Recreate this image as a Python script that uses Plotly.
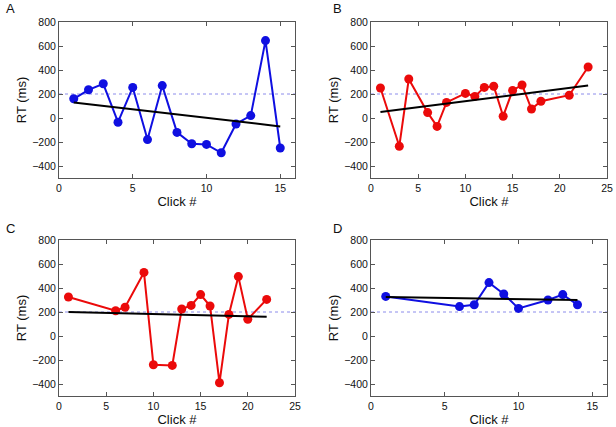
import plotly.graph_objects as go

# Panel A
xA = [1, 2, 3, 4, 5, 6, 7, 8, 9, 10, 11, 12, 13, 14, 15]
yA = [160, 235, 285, -35, 255, -180, 270, -120, -215, -220, -290, -50, 20, 645, -250]
fitA_x = [1, 15]
fitA_y = [130, -70]

# Panel B
xB = [1, 3, 4, 6, 7, 8, 10, 11, 12, 13, 14, 15, 16, 17, 18, 21, 23]
yB = [250, -235, 325, 45, -70, 130, 205, 180, 255, 265, 15, 230, 275, 75, 140, 190, 425]
fitB_x = [1, 23]
fitB_y = [50, 270]

# Panel C
xC = [1, 6, 7, 9, 10, 12, 13, 14, 15, 16, 17, 18, 19, 20, 22]
yC = [325, 210, 240, 530, -240, -245, 225, 255, 345, 250, -390, 180, 495, 140, 305]
fitC_x = [1, 22]
fitC_y = [200, 160]

# Panel D
xD = [1, 6, 7, 8, 9, 10, 12, 13, 14]
yD = [330, 245, 260, 445, 350, 230, 300, 345, 260]
fitD_x = [1, 14]
fitD_y = [325, 300]

threshold = 200
y_ticks = [-400, -200, 0, 200, 400, 600, 800]
panel_labels = ["A", "B", "C", "D"]

BLUE = "rgb(15,15,225)"
RED = "rgb(235,10,10)"
FONT = "Liberation Sans, Arial, sans-serif"

panels = [
    (xA, yA, fitA_x, fitA_y, BLUE, 16, [0, 5, 10, 15]),
    (xB, yB, fitB_x, fitB_y, RED, 25, [0, 5, 10, 15, 20, 25]),
    (xC, yC, fitC_x, fitC_y, RED, 25, [0, 5, 10, 15, 20, 25]),
    (xD, yD, fitD_x, fitD_y, BLUE, 16, [0, 5, 10, 15]),
]

W, H = 616, 427
boxes = [  # left, top, right, bottom in pixels
    (59, 22, 295, 178),
    (371, 22, 607, 178),
    (59, 240, 295, 396),
    (371, 240, 607, 396),
]
label_pos = [(4, 8), (331, 8), (4, 228), (331, 228)]

fig = go.Figure()
layout = {}
annotations = []
for i, ((x, y, fx, fy, col, xmax, xt), (l, t, r, b)) in enumerate(zip(panels, boxes)):
    n = i + 1
    xa = "x" if n == 1 else f"x{n}"
    ya = "y" if n == 1 else f"y{n}"
    fig.add_trace(go.Scatter(x=[0, xmax], y=[threshold, threshold], mode="lines",
                             line=dict(color="rgb(140,140,235)", width=1, dash="dot"),
                             xaxis=xa, yaxis=ya, showlegend=False, hoverinfo="skip"))
    fig.add_trace(go.Scatter(x=x, y=y, mode="lines+markers",
                             line=dict(color=col, width=2),
                             marker=dict(color=col, size=9),
                             xaxis=xa, yaxis=ya, showlegend=False))
    fig.add_trace(go.Scatter(x=fx, y=fy, mode="lines",
                             line=dict(color="black", width=2),
                             xaxis=xa, yaxis=ya, showlegend=False))
    axcommon = dict(showline=True, linecolor="#555", linewidth=1, mirror="ticks",
                    ticks="inside", ticklen=4, tickcolor="#555", showgrid=False,
                    zeroline=False, automargin=False,
                    tickfont=dict(family=FONT, size=10.5, color="#111"))
    layout["xaxis" if n == 1 else f"xaxis{n}"] = dict(
        domain=[l / W, r / W], anchor=ya, range=[0, xmax], tickvals=xt,
        title=dict(text="Click #", font=dict(family=FONT, size=13, color="#111"), standoff=4),
        **axcommon)
    layout["yaxis" if n == 1 else f"yaxis{n}"] = dict(
        domain=[1 - b / H, 1 - t / H], anchor=xa, range=[-500, 800], tickvals=y_ticks,
        title=dict(text="RT (ms)", font=dict(family=FONT, size=13, color="#111"), standoff=2),
        **axcommon)
    lx, ly = label_pos[i]
    annotations.append(dict(text=panel_labels[i], x=lx / W, y=1 - ly / H,
                            xref="paper", yref="paper",
                            showarrow=False, xanchor="left", yanchor="middle",
                            font=dict(family=FONT, size=13, color="#111")))

fig.update_layout(width=W, height=H, margin=dict(l=0, r=0, t=0, b=0, autoexpand=False),
                  paper_bgcolor="white", plot_bgcolor="white",
                  annotations=annotations, **layout)
fig.write_html("out.html", config={"displayModeBar": False})

with open("out.html", "r", encoding="utf-8") as f:
    html = f.read()
html = html.replace("<body>", '<body style="margin:0;padding:0;overflow:hidden">', 1)
with open("out.html", "w", encoding="utf-8") as f:
    f.write(html)
